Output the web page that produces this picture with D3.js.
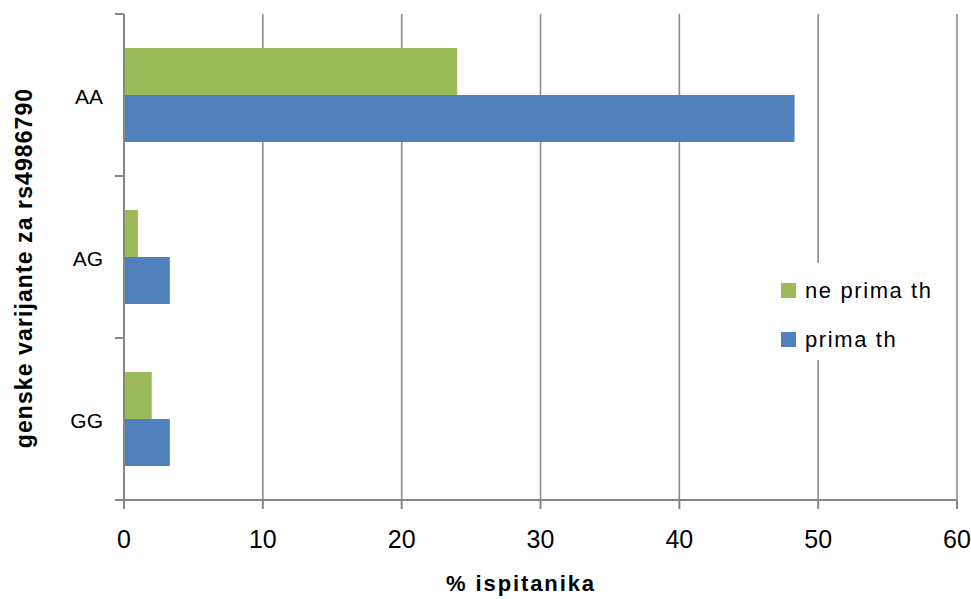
<!DOCTYPE html>
<html>
<head>
<meta charset="utf-8">
<script src="https://cdn.jsdelivr.net/npm/d3@7"></script>
<style>
  html, body { margin: 0; padding: 0; background: #fff; }
  svg { display: block; }
</style>
</head>
<body>
<svg id="chart" width="971" height="599"></svg>
<script>
// Genotype categories (top to bottom)
const categories = ["AA", "AG", "GG"];
// Series names, drawn in this order inside each group
const seriesNames = ["ne prima th", "prima th"];
// Percent of participants per genotype
const nePrimaTh = [24.0, 1.0, 2.0];
const primaTh = [48.3, 3.3, 3.3];
const xTicks = [0, 10, 20, 30, 40, 50, 60];
const colors = ["#9BBB59", "#4F81BD"];

const svg = d3.select("#chart");
const plotLeft = 124, plotRight = 957, plotTop = 14, plotBottom = 500;
const axisColor = "#868686";

const x = d3.scaleLinear().domain([0, 60]).range([plotLeft, plotRight]);
const y = d3.scaleBand().domain(categories).range([plotTop, plotBottom])
  .paddingInner(0.42).paddingOuter(0.21);
const ySeries = d3.scaleBand().domain(seriesNames).range([0, y.bandwidth()]);

const rows = categories.map((c, i) => ({
  cat: c,
  values: [nePrimaTh[i], primaTh[i]]
}));

// Vertical gridlines
svg.append("g").selectAll("line")
  .data(xTicks.filter(d => d > 0))
  .join("line")
  .attr("x1", d => x(d)).attr("x2", d => x(d))
  .attr("y1", plotTop).attr("y2", plotBottom)
  .attr("stroke", "#8c8c8c").attr("stroke-width", 1.6);

// Bars
const groups = svg.append("g").selectAll("g")
  .data(rows).join("g")
  .attr("transform", d => `translate(0,${y(d.cat)})`);
groups.selectAll("rect")
  .data(d => d.values.map((v, j) => ({ v, s: seriesNames[j], j })))
  .join("rect")
  .attr("x", x(0))
  .attr("y", d => ySeries(d.s))
  .attr("width", d => x(d.v) - x(0))
  .attr("height", ySeries.bandwidth())
  .attr("fill", d => colors[d.j]);

// Y axis with ticks on category boundaries
const yAxis = svg.append("g");
yAxis.append("line")
  .attr("x1", plotLeft).attr("x2", plotLeft).attr("y1", plotTop).attr("y2", plotBottom)
  .attr("stroke", axisColor).attr("stroke-width", 2);
const boundaries = d3.range(categories.length + 1).map(i => plotTop + i * y.step());
yAxis.selectAll("line.tick").data(boundaries).join("line")
  .attr("class", "tick")
  .attr("x1", plotLeft - 9).attr("x2", plotLeft)
  .attr("y1", d => d).attr("y2", d => d)
  .attr("stroke", axisColor).attr("stroke-width", 2);
yAxis.selectAll("text").data(categories).join("text")
  .attr("x", 103)
  .attr("y", d => y(d) + y.bandwidth() / 2 + 9)
  .attr("text-anchor", "end")
  .attr("font-family", "Liberation Sans, Arial, sans-serif")
  .attr("font-size", 21)
  .attr("fill", "#000")
  .text(d => d);

// X axis
const xAxis = svg.append("g");
xAxis.append("line")
  .attr("x1", plotLeft - 9).attr("x2", plotRight).attr("y1", plotBottom).attr("y2", plotBottom)
  .attr("stroke", axisColor).attr("stroke-width", 2);
xAxis.selectAll("line.tick").data(xTicks).join("line")
  .attr("class", "tick")
  .attr("x1", d => x(d)).attr("x2", d => x(d))
  .attr("y1", plotBottom).attr("y2", plotBottom + 9)
  .attr("stroke", axisColor).attr("stroke-width", 2);
xAxis.selectAll("text").data(xTicks).join("text")
  .attr("x", d => x(d))
  .attr("y", 548)
  .attr("text-anchor", "middle")
  .attr("font-family", "Liberation Sans Narrow, Liberation Sans, Arial, sans-serif")
  .attr("font-size", 25)
  .attr("fill", "#000")
  .text(d => d);

// Axis titles
svg.append("text")
  .attr("x", 521).attr("y", 591)
  .attr("text-anchor", "middle")
  .attr("font-family", "Liberation Sans, Arial, sans-serif")
  .attr("font-weight", "bold")
  .attr("font-size", 22)
  .attr("letter-spacing", 1.9)
  .text("% ispitanika");

svg.append("text")
  .attr("transform", "translate(32,268) rotate(-90)")
  .attr("text-anchor", "middle")
  .attr("font-family", "Liberation Sans, Arial, sans-serif")
  .attr("font-weight", "bold")
  .attr("font-size", 23)
  .attr("letter-spacing", 1.1)
  .text("genske varijante za rs4986790");

// Legend
const legend = svg.append("g");
legend.append("rect")
  .attr("x", 772).attr("y", 263).attr("width", 178).attr("height", 97)
  .attr("fill", "#fff");
const legendRows = legend.selectAll("g").data(seriesNames).join("g")
  .attr("transform", (d, i) => `translate(781,${283 + i * 49})`);
legendRows.append("rect")
  .attr("width", 15).attr("height", 15)
  .attr("fill", (d, i) => colors[i]);
legendRows.append("text")
  .attr("x", 24).attr("y", 15)
  .attr("font-family", "Liberation Sans, Arial, sans-serif")
  .attr("font-size", 22)
  .attr("letter-spacing", 1.6)
  .attr("fill", "#000")
  .text(d => d);
</script>
</body>
</html>
